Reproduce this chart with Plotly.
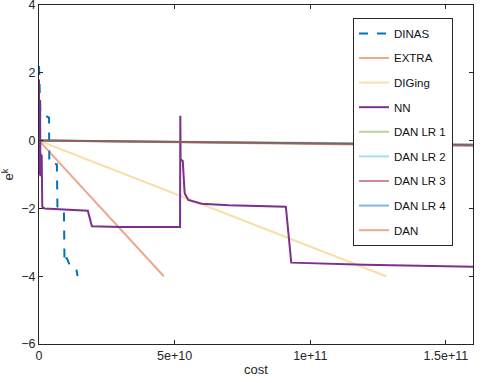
import plotly.graph_objects as go

# ---------------- data (cost in units of 1e10) ----------------
dinas_x = [0.0, 0.02, 0.05, 0.37, 0.38, 0.66, 0.68, 0.92, 0.94, 1.02, 1.12, 1.38, 1.42]
dinas_y = [2.2, 1.4, 0.8, 0.68, -0.65, -0.7, -2.0, -2.1, -3.6, -3.45, -3.65, -3.8, -4.0]

extra_x = [0.0, 4.6]
extra_y = [0.0, -4.0]

diging_x = [0.0, 12.8]
diging_y = [0.0, -4.0]

nn_x = [0.0, 0.01, 0.02, 0.03, 0.04, 0.05, 0.06, 0.07, 0.1, 0.12, 0.2, 1.0, 1.8, 1.95,
        3.0, 5.2, 5.21, 5.22, 5.3, 5.37, 5.5, 6.0, 7.0, 8.0, 9.1, 9.3, 12.0, 16.0]
nn_y = [1.8, -1.0, 1.6, -0.8, 1.2, -1.05, 0.8, -0.4, -0.45, -1.95, -2.0, -2.03, -2.07, -2.53,
        -2.55, -2.55, 0.73, -0.55, -0.6, -1.55, -1.75, -1.86, -1.91, -1.93, -1.95, -3.6, -3.66, -3.72]

dan_x = [0.0, 16.0]
dan_lr1_y = [0.0, -0.11]
dan_lr2_y = [0.0, -0.12]
dan_lr3_y = [0.0, -0.13]
dan_lr4_y = [0.0, -0.14]
dan_y = [0.0, -0.16]

x_ticks = [0, 5, 10, 15]
x_tick_labels = ["0", "5e+10", "1e+11", "1.5e+11"]
y_ticks = [-6, -4, -2, 0, 2, 4]

SCALE = 1e10

series = [
    ("DINAS", dinas_x, dinas_y, "#0072BD", "dash", 1.0),
    ("EXTRA", extra_x, extra_y, "#D95319", "solid", 0.5),
    ("DIGing", diging_x, diging_y, "#EDB120", "solid", 0.4),
    ("NN", nn_x, nn_y, "#7E2F8E", "solid", 1.0),
    ("DAN LR 1", dan_x, dan_lr1_y, "#77AC30", "solid", 0.5),
    ("DAN LR 2", dan_x, dan_lr2_y, "#4DBEEE", "solid", 0.5),
    ("DAN LR 3", dan_x, dan_lr3_y, "#A2142F", "solid", 0.5),
    ("DAN LR 4", dan_x, dan_lr4_y, "#0072BD", "solid", 0.5),
    ("DAN", dan_x, dan_y, "#D95319", "solid", 0.5),
]

fig = go.Figure()
for i, (name, xs, ys, color, dash, op) in enumerate(series):
    fig.add_trace(go.Scatter(
        x=[v * SCALE for v in xs], y=ys, mode="lines", name=name,
        line=dict(color=color, width=2, dash=dash), opacity=op,
        legendgroup=f"g{i}",
    ))

FONT = "Liberation Sans, Arial, sans-serif"
axis_common = dict(
    showline=True, linecolor="#262626", linewidth=1, mirror="ticks",
    ticks="inside", ticklen=4, tickcolor="#262626", showgrid=False, zeroline=False,
    automargin=False, ticklabeloverflow="allow",
    tickfont=dict(family=FONT, size=12.5, color="#262626"),
)

fig.update_layout(
    width=486, height=383,
    margin=dict(l=39, r=13, t=5, b=39, autoexpand=False),
    paper_bgcolor="white", plot_bgcolor="white",
    font=dict(family=FONT, color="#262626"),
    xaxis=dict(range=[0, 1.6e11], tickvals=[v * SCALE for v in x_ticks], ticktext=x_tick_labels,
               title=dict(text="cost", font=dict(family=FONT, size=13), standoff=2), **axis_common),
    yaxis=dict(range=[-6, 4], tickvals=y_ticks,
               title=dict(text="e<sup>k</sup>", font=dict(family=FONT, size=13), standoff=4), **axis_common),
    legend=dict(x=0.7235, y=0.962, xanchor="left", yanchor="top",
                bgcolor="white", bordercolor="#262626", borderwidth=1,
                font=dict(family=FONT, size=11.5, color="#111111"),
                tracegroupgap=5.6, itemwidth=30),
    showlegend=True,
)

fig.write_html("out.html", config={"displayModeBar": False},
               post_script="document.body.style.margin='0';document.body.style.overflow='hidden';")
